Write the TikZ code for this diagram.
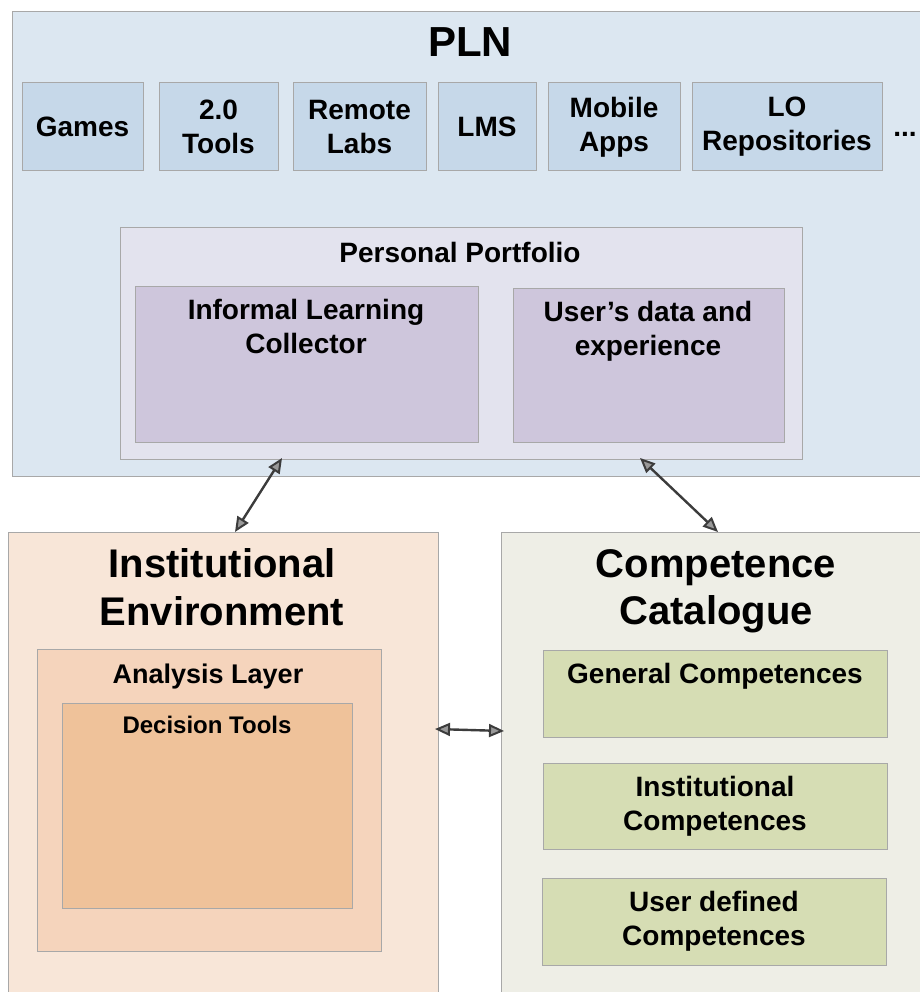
\documentclass[tikz,border=0pt]{standalone}
\usepackage{fontspec}
\setmainfont{Liberation Sans}
\usetikzlibrary{arrows.meta,calc}
\definecolor{plnbg}{HTML}{DCE7F1}
\definecolor{toolbg}{HTML}{C6D8E9}
\definecolor{portbg}{HTML}{E3E3EE}
\definecolor{purplebg}{HTML}{CEC6DC}
\definecolor{instbg}{HTML}{F8E6D8}
\definecolor{analbg}{HTML}{F5D4BC}
\definecolor{decbg}{HTML}{EFC29A}
\definecolor{compbg}{HTML}{EEEEE6}
\definecolor{greenbg}{HTML}{D6DDB4}
\definecolor{bordergray}{HTML}{A8A8A8}
\definecolor{arrowgray}{HTML}{3C3C3C}
\begin{document}
\begin{tikzpicture}[x=1pt,y=-1pt,
  box/.style={draw=bordergray, line width=1pt, inner sep=0pt, outer sep=0pt, anchor=north west, align=center},
  fbig/.style={font=\fontsize{42}{50}\selectfont\bfseries},
  ftitle/.style={font=\fontsize{40}{48}\selectfont\bfseries},
  fmid/.style={font=\fontsize{28}{34}\selectfont\bfseries},
  fana/.style={font=\fontsize{27}{32}\selectfont\bfseries},
  fdec/.style={font=\fontsize{24}{29}\selectfont\bfseries},
  lbl/.style={inner sep=0pt, anchor=base},
  tipA/.tip={Triangle[length=15pt,width=13pt,fill=black!40,line width=2pt]},
  arr/.style={draw=arrowgray, line width=2.4pt, tipA-tipA}
]
\useasboundingbox (0,0) rectangle (919,992);

% PLN
\node[box, fill=plnbg, minimum width=918pt, minimum height=464pt] (pln) at (12,12) {};
\node[lbl, fbig] (plnt) at (470,57) {PLN};

\node[box, fill=toolbg, fmid, minimum width=121pt, minimum height=88pt] (games) at (22,83) {Games};
\node[box, fill=toolbg, fmid, minimum width=119pt, minimum height=88pt] (tools) at (159,83) {2.0\\Tools};
\node[box, fill=toolbg, fmid, minimum width=133pt, minimum height=88pt] (remote) at (293,83) {Remote\\Labs};
\node[box, fill=toolbg, fmid, minimum width=98pt, minimum height=88pt] (lms) at (438,83) {LMS};
\node[box, fill=toolbg, fmid, minimum width=132pt, minimum height=88pt] (mobile) at (548,83) {Mobile\\Apps};
\node[box, fill=toolbg, fmid, minimum width=190pt, minimum height=88pt] (lorep) at (692,83) {LO\\Repositories};
\node[lbl, fmid] (dots) at (905,137) {...};

% Personal portfolio
\node[box, fill=portbg, minimum width=682pt, minimum height=231pt] (port) at (120,228) {};
\node[lbl, fmid] (portt) at (460,262) {Personal Portfolio};
\node[box, fill=purplebg, minimum width=343pt, minimum height=156pt] (ilc) at (135,286) {};
\node[lbl, fmid] (ilc1) at (306,319) {Informal Learning};
\node[lbl, fmid] (ilc2) at (306,353) {Collector};
\node[box, fill=purplebg, minimum width=271pt, minimum height=154pt] (uda) at (513,288) {};
\node[lbl, fmid] (uda1) at (648,321) {User’s data and};
\node[lbl, fmid] (uda2) at (648,355) {experience};

% Institutional environment
\node[box, fill=instbg, minimum width=430pt, minimum height=480pt] (inst) at (8,532) {};
\node[lbl, ftitle] (inst1) at (222,577) {Institutional};
\node[lbl, ftitle] (inst2) at (222,625) {Environment};
\node[box, fill=analbg, minimum width=344pt, minimum height=302pt] (anal) at (37,649) {};
\node[lbl, fana] (analt) at (208,683) {Analysis Layer};
\node[box, fill=decbg, minimum width=290pt, minimum height=205pt] (dec) at (62,703) {};
\node[lbl, fdec] (dect) at (207,733) {Decision Tools};

% Competence catalogue
\node[box, fill=compbg, minimum width=429pt, minimum height=480pt] (comp) at (501,532) {};
\node[lbl, ftitle] (comp1) at (716,577) {Competence};
\node[lbl, ftitle] (comp2) at (716,624) {Catalogue};
\node[box, fill=greenbg, minimum width=344pt, minimum height=87pt] (gen) at (543,650) {};
\node[lbl, fmid] (gent) at (715,683) {General Competences};
\node[box, fill=greenbg, fmid, minimum width=344pt, minimum height=86pt] (icomp) at (543,763) {Institutional\\Competences};
\node[box, fill=greenbg, fmid, minimum width=344pt, minimum height=87pt] (ucomp) at (542,878) {User defined\\Competences};

% connectors
\draw[arr] ($(port.south west)+(162,-1)$) -- ($(inst.north west)+(227,0)$);
\draw[arr] ($(port.south west)+(520,-1)$) -- ($(comp.north west)+(217,0)$);
\draw[arr] ($(inst.north east)+(-3,197)$) -- ($(comp.north west)+(3,199)$);
\end{tikzpicture}
\end{document}
